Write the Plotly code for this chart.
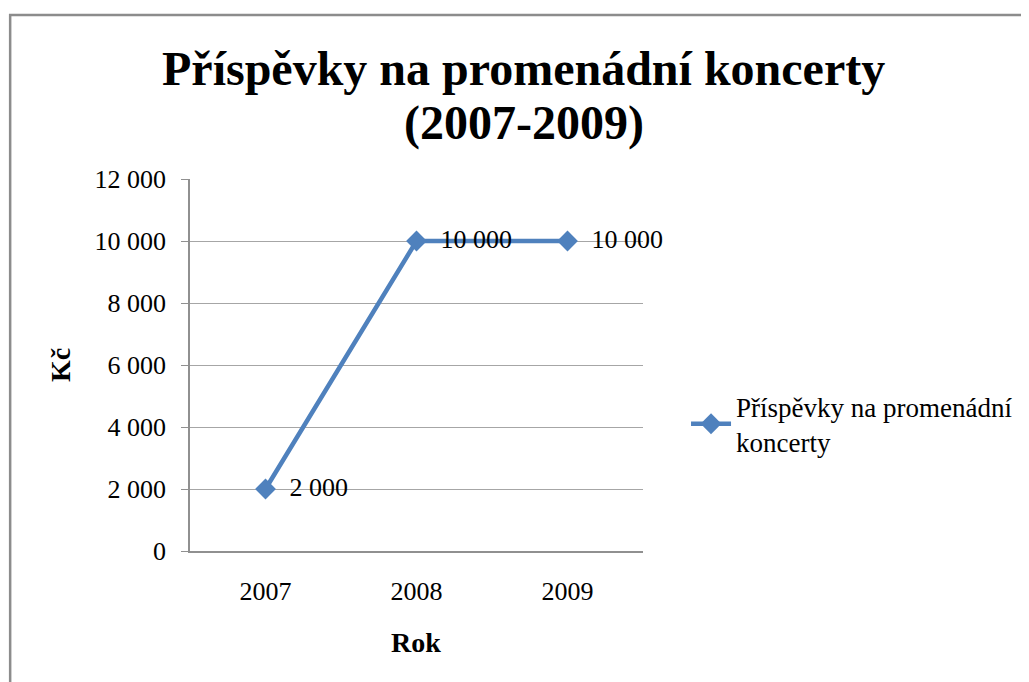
import plotly.graph_objects as go

years = ["2007", "2008", "2009"]
values = [2000, 10000, 10000]
series_name = "Příspěvky na promenádní<br>koncerty"
title_lines = ["Příspěvky na promenádní koncerty", "(2007-2009)"]
y_ticks = [0, 2000, 4000, 6000, 8000, 10000, 12000]

serif = "Liberation Serif, Times New Roman, serif"
blue = "#4F81BD"

fig = go.Figure()
fig.add_trace(go.Scatter(
    x=years, y=values, mode="lines+markers+text",
    name=series_name,
    line=dict(color=blue, width=4.5),
    marker=dict(symbol="diamond", size=16, color=blue),
    texttemplate="  %{y:,}",
    textposition="middle right",
    textfont=dict(family=serif, size=26, color="black"),
    cliponaxis=False,
))

fig.update_layout(
    width=1029, height=682,
    separators=", ",
    paper_bgcolor="white", plot_bgcolor="white",
    margin=dict(l=182, r=394, t=171, b=139, autoexpand=False),
    font=dict(family=serif, size=26, color="black"),
    showlegend=True,
    legend=dict(x=1.095, y=0.341, xanchor="left", yanchor="middle",
                font=dict(family=serif, size=27), itemwidth=40,
                bgcolor="rgba(0,0,0,0)"),
    xaxis=dict(type="category", range=[-0.5, 2.5], showgrid=False,
               showline=True, linecolor="#909090", linewidth=1.5,
               ticks="", tickfont=dict(size=26), ticklabelstandoff=16),
    yaxis=dict(range=[0, 12000], tickvals=y_ticks, tickformat=",",
               showgrid=True, gridcolor="#a6a6a6", gridwidth=1,
               showline=True, linecolor="#909090", linewidth=1.5,
               ticks="outside", ticklen=7, tickcolor="#909090",
               tickfont=dict(size=26), zeroline=False, ticklabelstandoff=10),
    annotations=[
        dict(text=f"<b>{title_lines[0]}</b>",
             xref="paper", yref="paper", x=0.737, y=1.0, yshift=111,
             xanchor="center", yanchor="middle", showarrow=False,
             font=dict(family=serif, size=48, color="black")),
        dict(text=f"<b>{title_lines[1]}</b>",
             xref="paper", yref="paper", x=0.737, y=1.0, yshift=56,
             xanchor="center", yanchor="middle", showarrow=False,
             font=dict(family=serif, size=48, color="black")),
        dict(text="<b>Kč</b>", xref="paper", yref="paper", x=0, y=0.5,
             xshift=-130, textangle=-90, showarrow=False,
             xanchor="center", yanchor="middle",
             font=dict(family=serif, size=28)),
        dict(text="<b>Rok</b>", xref="paper", yref="paper", x=0.499, y=0,
             yshift=-91, showarrow=False, xanchor="center", yanchor="middle",
             font=dict(family=serif, size=28)),
    ],
    shapes=[dict(type="rect", xref="paper", yref="paper",
                 x0=-0.397, x1=1.9, y0=-0.5, y1=1.441,
                 line=dict(color="#8c8c8c", width=2.5))],
)

fig.write_html("out.html")
